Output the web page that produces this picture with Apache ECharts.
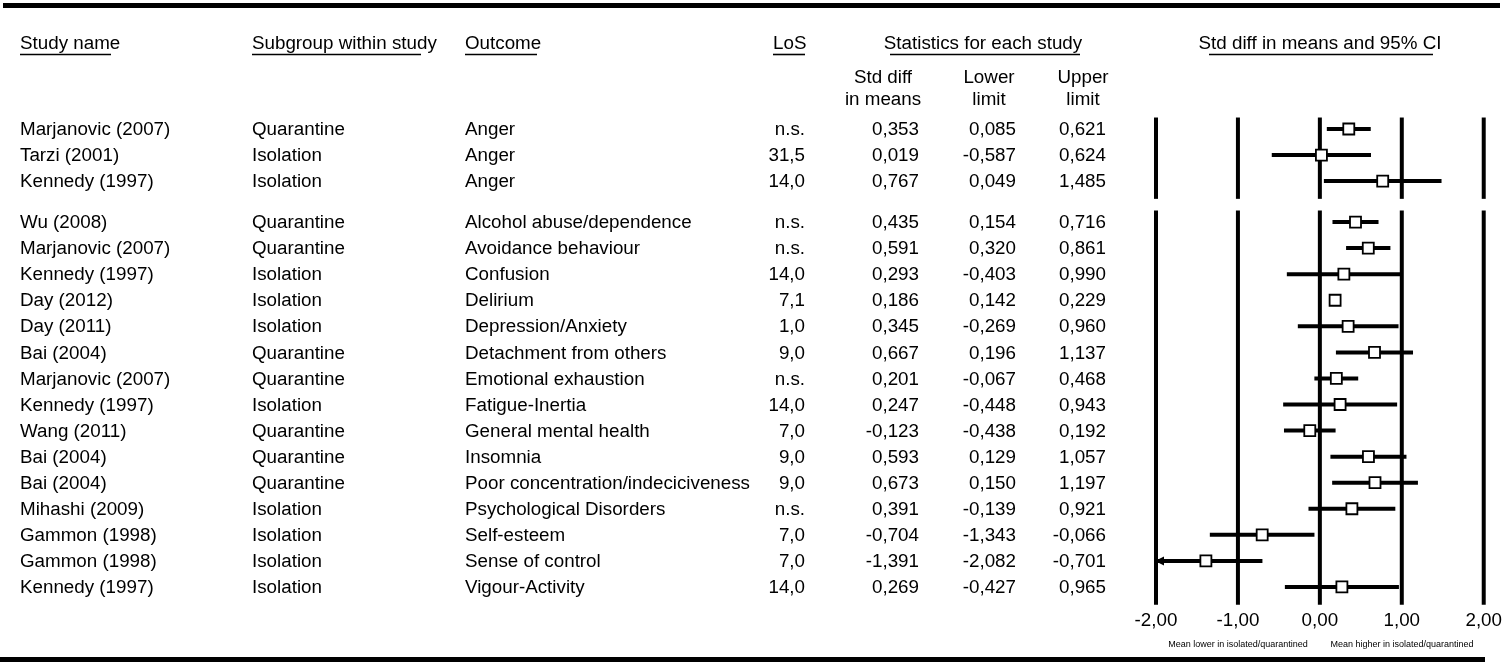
<!DOCTYPE html>
<html>
<head>
<meta charset="utf-8">
<script src="https://cdn.jsdelivr.net/npm/echarts@6/dist/echarts.min.js"></script>
<style>
html,body{margin:0;padding:0;background:#fff;}
#chart{width:1505px;height:666px;}
</style>
</head>
<body>
<div id="chart"></div>
<script>
// ---- data ----
const studies = ["Marjanovic (2007)","Tarzi (2001)","Kennedy (1997)","Wu (2008)","Marjanovic (2007)","Kennedy (1997)","Day (2012)","Day (2011)","Bai (2004)","Marjanovic (2007)","Kennedy (1997)","Wang (2011)","Bai (2004)","Bai (2004)","Mihashi (2009)","Gammon (1998)","Gammon (1998)","Kennedy (1997)"];
const subgroups = ["Quarantine","Isolation","Isolation","Quarantine","Quarantine","Isolation","Isolation","Isolation","Quarantine","Quarantine","Isolation","Quarantine","Quarantine","Quarantine","Isolation","Isolation","Isolation","Isolation"];
const outcomes = ["Anger","Anger","Anger","Alcohol abuse/dependence","Avoidance behaviour","Confusion","Delirium","Depression/Anxiety","Detachment from others","Emotional exhaustion","Fatigue-Inertia","General mental health","Insomnia","Poor concentration/indeciciveness","Psychological Disorders","Self-esteem","Sense of control","Vigour-Activity"];
const los = ["n.s.","31,5","14,0","n.s.","n.s.","14,0","7,1","1,0","9,0","n.s.","14,0","7,0","9,0","9,0","n.s.","7,0","7,0","14,0"];
const sdm = [0.353,0.019,0.767,0.435,0.591,0.293,0.186,0.345,0.667,0.201,0.247,-0.123,0.593,0.673,0.391,-0.704,-1.391,0.269];
const lower = [0.085,-0.587,0.049,0.154,0.320,-0.403,0.142,-0.269,0.196,-0.067,-0.448,-0.438,0.129,0.150,-0.139,-1.343,-2.082,-0.427];
const upper = [0.621,0.624,1.485,0.716,0.861,0.990,0.229,0.960,1.137,0.468,0.943,0.192,1.057,1.197,0.921,-0.066,-0.701,0.965];
const block = [0,0,0,1,1,1,1,1,1,1,1,1,1,1,1,1,1,1];
const xTicks = [-2,-1,0,1,2];
const noteLeft = "Mean lower in isolated/quarantined";
const noteRight = "Mean higher in isolated/quarantined";

// ---- layout helpers ----
const GAP = 0.57;
const rowPos = block.map((b,i)=> i + b*GAP);
const fmt3 = v => v.toFixed(3).replace('.',',');
const FONT = '"Liberation Sans", Arial, sans-serif';
const FS = 18.8;

const rows = studies.map((s,i)=>[rowPos[i], sdm[i], lower[i], upper[i], i]);

// vertical reference lines per block
const blocks = [...new Set(block)];
const vData = [];
blocks.forEach(b=>{
  const ps = rowPos.filter((p,i)=>block[i]===b);
  xTicks.forEach(t=> vData.push([t, Math.min(...ps)-0.44, Math.max(...ps)+0.68]));
});

const chart = echarts.init(document.getElementById('chart'));

function textSeries(colX, align, getter){
  return {
    type:'custom', silent:true,
    data: rows,
    encode:{x:-1,y:0},
    renderItem:(params, api)=>{
      const i = api.value(4);
      const y = api.coord([0, api.value(0)])[1] + 1;
      return {type:'text', style:{x:colX, y:y, text:getter(i), textAlign:align, textVerticalAlign:'middle', font:`${FS}px ${FONT}`, fill:'#000'}};
    },
    z:5
  };
}

const headerY = 44;
const headers = [
  {t:'Study name', x:20, a:'left', ul:[20,111]},
  {t:'Subgroup within study', x:252, a:'left', ul:[252,421]},
  {t:'Outcome', x:465, a:'left', ul:[465,537]},
  {t:'LoS', x:773, a:'left', ul:[773,805]},
  {t:'Statistics for each study', x:983, a:'center', ul:[890,1080]},
  {t:'Std diff in means and 95% CI', x:1320, a:'center', ul:[1209,1433]}
];
const graphics = [];
graphics.push({type:'rect', shape:{x:3,y:3,width:1497,height:5}, style:{fill:'#000'}});
graphics.push({type:'rect', shape:{x:0,y:657,width:1485,height:5}, style:{fill:'#000'}});
headers.forEach(h=>{
  graphics.push({type:'text', style:{x:h.x, y:headerY, text:h.t, textAlign:h.a, textVerticalAlign:'middle', font:`${FS}px ${FONT}`, fill:'#000'}});
  graphics.push({type:'line', shape:{x1:h.ul[0], y1:54.5, x2:h.ul[1], y2:54.5}, style:{stroke:'#000', lineWidth:1.6}});
});
const sub = [
  {x:883, l1:'Std diff', l2:'in means'},
  {x:989, l1:'Lower', l2:'limit'},
  {x:1083, l1:'Upper', l2:'limit'}
];
sub.forEach(s=>{
  graphics.push({type:'text', style:{x:s.x, y:78, text:s.l1, textAlign:'center', textVerticalAlign:'middle', font:`${FS}px ${FONT}`, fill:'#000'}});
  graphics.push({type:'text', style:{x:s.x, y:100, text:s.l2, textAlign:'center', textVerticalAlign:'middle', font:`${FS}px ${FONT}`, fill:'#000'}});
});
graphics.push({type:'text', style:{x:1238, y:645, text:noteLeft, textAlign:'center', textVerticalAlign:'middle', font:`9px ${FONT}`, fill:'#000'}});
graphics.push({type:'text', style:{x:1402, y:645, text:noteRight, textAlign:'center', textVerticalAlign:'middle', font:`9px ${FONT}`, fill:'#000'}});

const option = {
  animation:false,
  backgroundColor:'#fff',
  grid:{left:1156, top:117, width:329, height:489},
  xAxis:{type:'value', min:-2, max:2, interval:1,
    axisLine:{show:false}, axisTick:{show:false}, splitLine:{show:false},
    axisLabel:{fontSize:FS, fontFamily:FONT, color:'#000', margin:5, formatter:v=>v.toFixed(2).replace('.',','), showMinLabel:true, showMaxLabel:true}},
  yAxis:{type:'value', inverse:true, min:-0.46, max:18.3, show:false},
  graphic: graphics,
  series:[
    {
      type:'custom', silent:true, data:vData, clip:false,
      renderItem:(params, api)=>{
        const p1 = api.coord([api.value(0), api.value(1)]);
        const p2 = api.coord([api.value(0), api.value(2)]);
        return {type:'line', shape:{x1:p1[0], y1:p1[1], x2:p2[0], y2:p2[1]}, style:{stroke:'#000', lineWidth:4}};
      },
      z:2
    },
    {
      type:'custom', silent:true, data:rows, clip:false,
      renderItem:(params, api)=>{
        const y = api.value(0), m = api.value(1), lo = api.value(2), hi = api.value(3);
        const loC = Math.max(lo, -2), hiC = Math.min(hi, 2);
        const a = api.coord([loC, y]), b = api.coord([hiC, y]), c = api.coord([m, y]);
        const children = [
          {type:'line', shape:{x1:a[0], y1:a[1], x2:b[0], y2:b[1]}, style:{stroke:'#000', lineWidth:4}}
        ];
        if (lo < -2) {
          children.push({type:'polygon', shape:{points:[[a[0]-1,a[1]],[a[0]+8,a[1]-4.5],[a[0]+8,a[1]+4.5]]}, style:{fill:'#000'}});
        }
        children.push({type:'rect', shape:{x:c[0]-5.5, y:c[1]-5.5, width:11, height:11}, style:{fill:'#fff', stroke:'#000', lineWidth:1.8}});
        return {type:'group', children};
      },
      z:3
    },
    textSeries(20,'left', i=>studies[i]),
    textSeries(252,'left', i=>subgroups[i]),
    textSeries(465,'left', i=>outcomes[i]),
    textSeries(805,'right', i=>los[i]),
    textSeries(919,'right', i=>fmt3(sdm[i])),
    textSeries(1016,'right', i=>fmt3(lower[i])),
    textSeries(1106,'right', i=>fmt3(upper[i]))
  ]
};
chart.setOption(option);
</script>
</body>
</html>
